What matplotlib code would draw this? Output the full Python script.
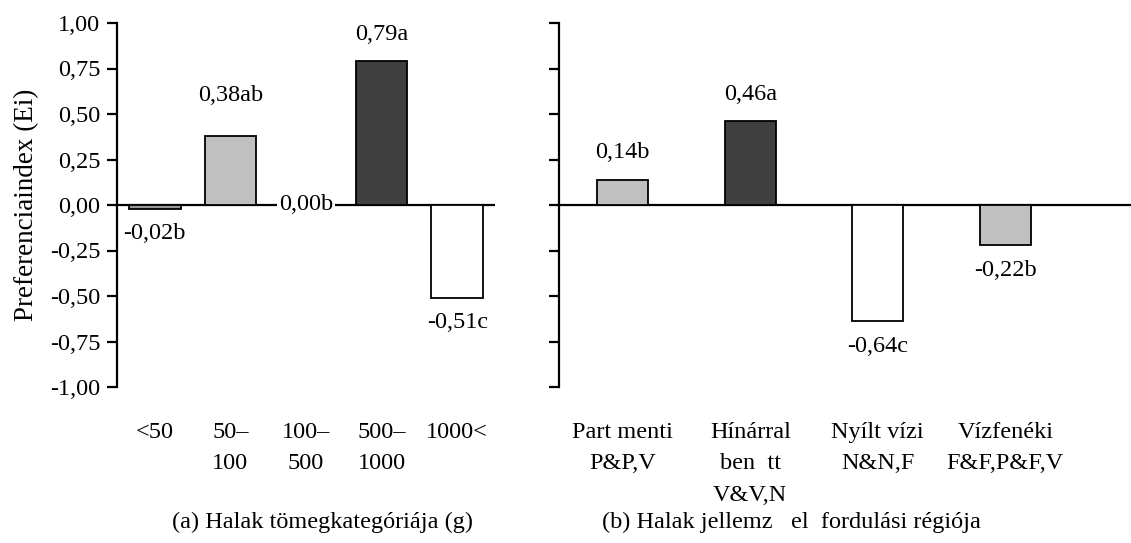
import matplotlib
matplotlib.use("Agg")
import matplotlib.pyplot as plt

plt.rcParams["font.family"] = ["Liberation Serif", "DejaVu Serif"]

# (a) weight classes
mass_labels = ["<50", "50–\n100", "100–\n500", "500–\n1000", "1000<"]
mass_values = [-0.02, 0.38, 0.00, 0.79, -0.51]
mass_text = ["-0,02b", "0,38ab", "0,00b", "0,79a", "-0,51c"]
mass_colors = ["#999999", "#c0c0c0", "#ffffff", "#404040", "#ffffff"]

# (b) typical region of occurrence
region_labels = ["Part menti\nP&P,V", "Hínárral\nben  tt\nV&V,N",
                 "Nyílt vízi\nN&N,F", "Vízfenéki\nF&F,P&F,V"]
region_values = [0.14, 0.46, -0.64, -0.22]
region_text = ["0,14b", "0,46a", "-0,64c", "-0,22b"]
region_colors = ["#c0c0c0", "#404040", "#ffffff", "#c0c0c0"]

yticks = [1.0, 0.75, 0.5, 0.25, 0.0, -0.25, -0.5, -0.75, -1.0]

FS = 17.5
W, H = 1131, 543
fig = plt.figure(figsize=(W / 100, H / 100), dpi=100)

bottom = 1 - 387 / H
height = (387 - 23) / H
ax1 = fig.add_axes([117 / W, bottom, (495 - 117) / W, height])
ax2 = fig.add_axes([559 / W, bottom, (W - 559) / W, height])


def style(ax):
    ax.set_ylim(-1, 1)
    ax.set_yticks(yticks)
    for s in ["top", "right", "bottom"]:
        ax.spines[s].set_visible(False)
    ax.spines["left"].set_linewidth(1.6)
    ax.axhline(0, color="black", lw=1.6, zorder=1)
    ax.tick_params(axis="y", length=7, width=1.6, direction="out", labelsize=FS, pad=5)
    ax.tick_params(axis="x", length=0, labelsize=FS, pad=25)


def label_bars(ax, xs, vals, texts, up=27, down=25):
    for x, v, t in zip(xs, vals, texts):
        if v == 0:
            ax.text(x, 0, t, ha="center", va="center", fontsize=FS, zorder=5,
                    bbox=dict(facecolor="white", edgecolor="none", pad=1))
            continue
        dy = up if v > 0 else -down
        if t == "0,38ab":
            dy = 40
        ax.annotate(t, (x, v), xytext=(0, dy * 0.72), textcoords="offset points",
                    ha="center", va="center", fontsize=FS)


# left panel
x1 = list(range(len(mass_values)))
ax1.bar(x1, mass_values, width=0.68, color=mass_colors, edgecolor="black",
        linewidth=1.3, zorder=3)
style(ax1)
ax1.set_xlim(-0.5, 4.5)
ax1.set_xticks(x1)
ax1.set_xticklabels(mass_labels, linespacing=1.65, va="top")
ax1.set_yticklabels([f"{v:.2f}".replace(".", ",") for v in yticks])
ax1.set_ylabel("Preferenciaindex (Ei)", fontsize=19.5, labelpad=8)
label_bars(ax1, x1, mass_values, mass_text)

# right panel
x2 = list(range(len(region_values)))
ax2.bar(x2, region_values, width=0.4, color=region_colors, edgecolor="black",
        linewidth=1.3, zorder=3)
style(ax2)
ax2.set_xlim(-0.5, 3.986)
ax2.set_xticks(x2)
ax2.set_xticklabels(region_labels, linespacing=1.65, va="top")
ax2.set_yticklabels([])
label_bars(ax2, x2, region_values, region_text)

fig.text(323 / W, 1 - 522 / H, "(a) Halak tömegkategóriája (g)",
         ha="center", va="center", fontsize=FS)
fig.text(791 / W, 1 - 522 / H, "(b) Halak jellemz   el  fordulási régiója",
         ha="center", va="center", fontsize=FS)

fig.savefig("out.png", dpi=100)
